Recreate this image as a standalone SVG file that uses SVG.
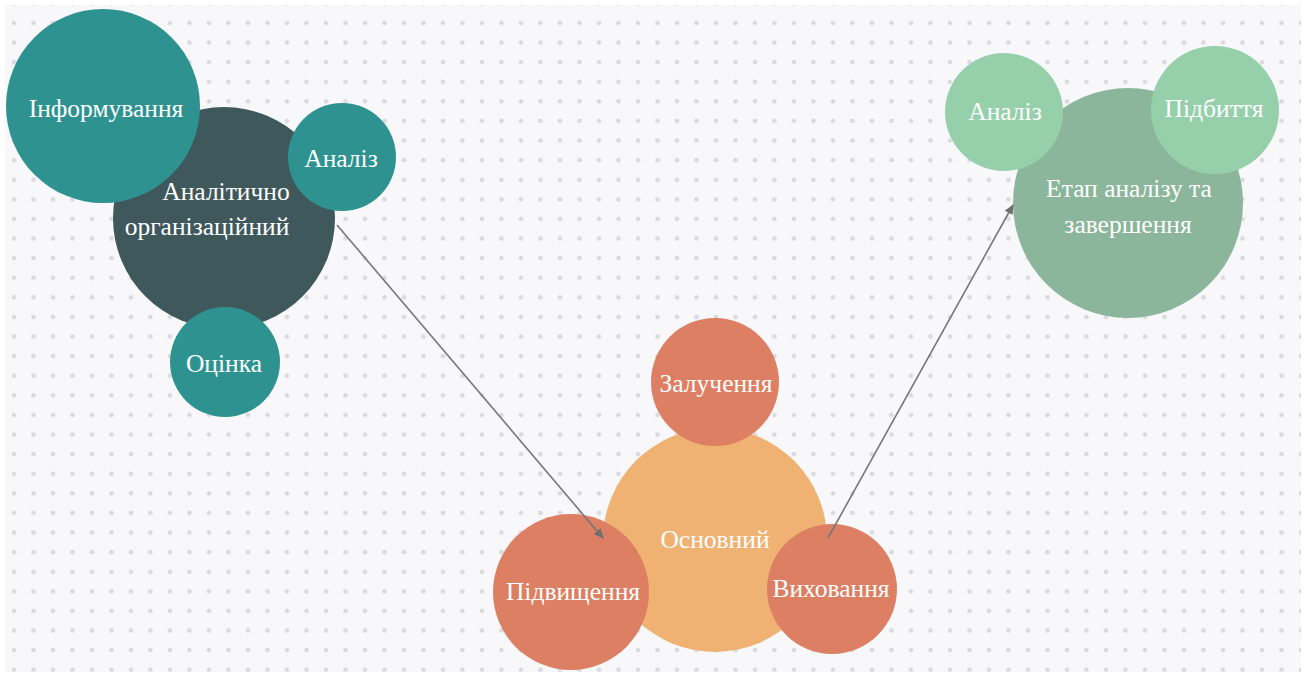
<svg xmlns="http://www.w3.org/2000/svg" width="1307" height="677" viewBox="0 0 1307 677">
  <defs>
    <pattern id="dots" x="4" y="13" width="19.5" height="19.6" patternUnits="userSpaceOnUse">
      <circle cx="10" cy="10" r="2.3" fill="#dadade"/>
    </pattern>
    <marker id="arrow" viewBox="0 0 10 10" refX="9" refY="5" markerWidth="10" markerHeight="10" orient="auto" markerUnits="userSpaceOnUse">
      <path d="M0,0.5 L10,5 L0,9.5 z" fill="#6f6f6f"/>
    </marker>
  </defs>
  <style>
    text { font-family: "Liberation Serif", "DejaVu Serif", serif; font-size: 25.5px; fill: #ffffff; text-anchor: middle; }
    .conn { stroke: #777777; stroke-width: 1.6; fill: none; }
    .teal { fill: #2e9390; }
    .dark { fill: #3e585c; }
    .orange { fill: #efb273; }
    .red { fill: #dd7f63; }
    .green { fill: #8bb69b; }
    .lgreen { fill: #96d0ab; }
  </style>
  <rect x="0" y="0" width="1307" height="677" fill="#ffffff"/>
  <rect x="5" y="5" width="1296" height="667" fill="#f8f8fa"/>
  <rect x="5" y="5" width="1296" height="667" fill="url(#dots)"/>

  <g id="node-analitychno">
    <circle class="dark" cx="224" cy="218" r="111"/>
    <text x="226" y="200">Аналітично</text>
    <text x="207" y="235">організаційний</text>
  </g>
  <g id="node-informuvannia">
    <circle class="teal" cx="103" cy="106" r="97"/>
    <text x="106" y="117">Інформування</text>
  </g>
  <g id="node-analiz1">
    <circle class="teal" cx="342" cy="157" r="54"/>
    <text x="341" y="167">Аналіз</text>
  </g>
  <g id="node-otsinka">
    <circle class="teal" cx="225" cy="362" r="55"/>
    <text x="224" y="372">Оцінка</text>
  </g>

  <g id="node-osnovnyi">
    <circle class="orange" cx="715" cy="540" r="112"/>
    <text x="715" y="548">Основний</text>
  </g>
  <g id="node-zaluchennia">
    <circle class="red" cx="715" cy="382" r="64"/>
    <text x="716" y="392">Залучення</text>
  </g>
  <g id="node-pidvyshchennia">
    <circle class="red" cx="571" cy="592" r="78"/>
    <text x="573" y="600">Підвищення</text>
  </g>
  <g id="node-vykhovannia">
    <circle class="red" cx="832" cy="589" r="65"/>
    <text x="831" y="597">Виховання</text>
  </g>

  <g id="node-etap">
    <circle class="green" cx="1128" cy="203" r="115"/>
    <text x="1129" y="197">Етап аналізу та</text>
    <text x="1128" y="233">завершення</text>
  </g>
  <g id="node-analiz2">
    <circle class="lgreen" cx="1004" cy="112" r="59"/>
    <text x="1005" y="120">Аналіз</text>
  </g>
  <g id="node-pidbyttia">
    <circle class="lgreen" cx="1215" cy="110" r="64"/>
    <text x="1214" y="117">Підбиття</text>
  </g>

  <g id="connectors">
    <line class="conn" x1="337" y1="225" x2="603" y2="538" marker-end="url(#arrow)"/>
    <line class="conn" x1="828" y1="538" x2="1013" y2="205" marker-end="url(#arrow)"/>
  </g>
</svg>
